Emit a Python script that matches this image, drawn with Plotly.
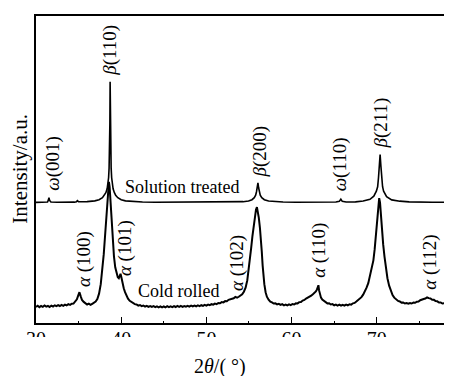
import plotly.graph_objects as go

# ---------------- data ----------------
solution_x = [30.0, 30.5, 31.0, 31.35, 31.45, 31.52, 31.6, 31.75, 32.5, 33.5, 34.5, 34.75, 34.87, 35.0, 35.5,
              36.0, 36.9, 37.4, 37.8, 38.05, 38.2, 38.35, 38.45, 38.52, 38.58, 38.63, 38.67, 38.7,
              38.73, 38.77, 38.82, 38.88, 38.95, 39.05, 39.2, 39.35, 39.6, 40.0, 40.5, 41.4,
              42.5, 44.0, 46.0, 48.0, 50.0, 52.0, 53.5, 54.3, 54.95, 55.35, 55.62, 55.78, 55.88, 55.96,
              56.05, 56.13, 56.21, 56.32, 56.5, 56.8, 57.3, 58.0, 59.0, 60.5, 62.0, 64.0, 65.2, 65.6,
              65.78, 65.95, 66.4, 67.5, 68.4, 69.2, 69.65, 69.95, 70.1, 70.2, 70.3, 70.39, 70.48,
              70.58, 70.68, 70.8, 71.15, 71.75, 72.7, 73.8, 75.0, 76.5, 78.83]
solution_y = [121.3, 121.2, 121.3, 121.6, 123.5, 126.0, 123.3, 121.7, 121.4, 121.3, 121.5, 122.0, 123.0, 121.9, 121.6,
              122.0, 122.8, 124.0, 126.0, 128.5, 131.0, 135.0, 140.0, 146.0, 156.0, 170.0, 200.0, 242.7,
              200.0, 170.0, 156.0, 146.0, 140.0, 135.0, 131.0, 128.5, 126.0, 124.0, 122.8, 122.0,
              121.6, 121.4, 121.4, 121.3, 121.3, 121.4, 121.6, 122.0, 122.7, 124.0, 126.0, 128.5, 132.0, 136.0,
              141.0, 136.0, 132.0, 128.5, 126.0, 124.0, 122.7, 122.0, 121.6, 121.4, 121.4, 121.5, 121.6, 122.3,
              124.5, 122.3, 121.6, 121.8, 122.7, 124.3, 127.5, 132.5, 137.0, 146.0, 158.0, 169.4, 158.0,
              146.0, 137.0, 132.5, 127.0, 123.8, 122.5, 121.8, 121.5, 121.4, 121.4]

cold_x = [30.0, 30.2, 30.4, 30.6, 30.8, 31.0, 31.2, 31.4, 31.6, 31.8, 32.0, 32.2, 32.4, 32.6, 32.8, 33.0,
          33.2, 33.4, 33.6, 33.8, 34.0, 34.2, 34.4, 34.6, 34.8, 34.95, 35.1, 35.25, 35.4, 35.6, 35.8,
          36.0, 36.2, 36.4, 36.6, 36.8, 37.0, 37.2, 37.4, 37.6, 37.8, 37.95, 38.1, 38.25, 38.4, 38.5,
          38.56, 38.64, 38.75, 38.88, 39.0, 39.15, 39.3, 39.45, 39.6, 39.72, 39.82, 39.92, 40.02, 40.15,
          40.3, 40.45, 40.6, 40.8, 41.0, 41.2, 41.4, 41.6, 41.8, 42.0, 42.2, 42.4, 42.6, 42.8, 43.0,
          43.2, 43.4, 43.6, 43.8, 44.0, 44.2, 44.4, 44.6, 44.8, 45.0, 45.2, 45.4, 45.6, 45.8, 46.0,
          46.2, 46.4, 46.6, 46.8, 47.0, 47.2, 47.4, 47.6, 47.8, 48.0, 48.2, 48.4, 48.6, 48.8, 49.0,
          49.2, 49.4, 49.6, 49.8, 50.0, 50.2, 50.4, 50.6, 50.8, 51.0, 51.2, 51.4, 51.6, 51.8, 52.0,
          52.2, 52.4, 52.6, 52.8, 53.0, 53.2, 53.4, 53.6, 53.8, 54.0, 54.2, 54.4, 54.6, 54.8, 54.95,
          55.1, 55.25, 55.4, 55.55, 55.7, 55.82, 55.93, 56.03, 56.15, 56.28, 56.4, 56.5, 56.6, 56.7,
          56.8, 56.95, 57.1, 57.3, 57.5, 57.7, 57.9, 58.1, 58.3, 58.5, 58.7, 58.9, 59.1, 59.3, 59.5,
          59.7, 59.9, 60.1, 60.3, 60.5, 60.7, 60.9, 61.1, 61.3, 61.5, 61.7, 61.9, 62.1, 62.3, 62.5,
          62.7, 62.85, 62.97, 63.08, 63.15, 63.22, 63.32, 63.45, 63.6, 63.8, 64.0, 64.2, 64.4, 64.6,
          64.8, 65.0, 65.2, 65.4, 65.6, 65.8, 66.0, 66.2, 66.4, 66.6, 66.8, 67.0, 67.2, 67.4, 67.6,
          67.8, 68.0, 68.2, 68.4, 68.6, 68.8, 69.0, 69.2, 69.4, 69.6, 69.75, 69.9, 70.05, 70.18,
          70.28, 70.38, 70.5, 70.62, 70.75, 70.9, 71.05, 71.25, 71.45, 71.65, 71.85, 72.05, 72.3,
          72.5, 72.7, 72.9, 73.1, 73.3, 73.5, 73.7, 73.9, 74.1, 74.3, 74.5, 74.7, 74.9, 75.1, 75.3,
          75.5, 75.7, 75.9, 76.1, 76.3, 76.5, 76.7, 76.9, 77.1, 77.3, 77.5, 77.7, 77.9, 78.1, 78.3,
          78.5, 78.7, 78.83]
cold_y = [16.2, 17.4, 15.9, 17.1, 16.3, 17.6, 16.4, 17.2, 16.0, 17.5, 16.6, 17.8, 16.9, 18.0, 17.1, 18.2,
          17.2, 18.5, 17.7, 18.9, 18.2, 19.4, 19.6, 21.2, 23.8, 27.5, 31.0, 26.8, 23.1, 21.2, 19.4,
          18.6, 19.4, 18.2, 19.3, 20.1, 21.5, 24.0, 29.5, 39.0, 54.0, 69.0, 87.0, 107.0, 127.0, 139.0,
          142.0, 137.0, 121.0, 100.0, 82.0, 67.0, 56.0, 49.0, 46.0, 45.0, 48.5, 49.5, 46.0, 40.0,
          35.0, 31.0, 28.0, 24.5, 22.3, 20.9, 20.1, 19.0, 18.6, 17.5, 18.1, 16.9, 17.6, 16.5, 17.3,
          16.2, 17.0, 16.1, 16.9, 15.9, 16.8, 15.8, 16.7, 15.7, 16.6, 15.8, 16.9, 15.9, 16.8, 16.0,
          17.0, 16.1, 17.1, 16.2, 17.2, 16.3, 17.1, 16.4, 17.3, 16.5, 17.4, 16.6, 17.5, 16.8, 17.7,
          17.0, 17.9, 17.2, 18.2, 17.5, 18.5, 17.9, 18.9, 18.4, 19.5, 19.0, 20.1, 19.8, 21.0, 20.7,
          22.0, 21.9, 23.3, 23.6, 24.6, 24.9, 26.2, 25.4, 26.4, 27.2, 28.8, 31.5, 35.5, 43.0, 52.0,
          63.0, 75.0, 87.0, 99.0, 108.0, 114.0, 116.5, 113.0, 106.0, 96.0, 85.0, 72.0, 58.0, 47.0,
          39.0, 31.0, 26.5, 23.5, 21.5, 20.8, 19.6, 19.8, 18.7, 19.2, 18.2, 18.9, 17.8, 18.6, 17.7,
          18.8, 18.0, 19.1, 18.6, 19.8, 19.7, 21.0, 21.2, 22.6, 23.2, 24.6, 25.4, 26.8, 27.5, 29.0,
          30.2, 31.8, 33.5, 37.5, 38.0, 33.0, 28.5, 25.5, 23.5, 22.0, 20.9, 19.7, 19.9, 18.6,
          19.0, 17.8, 18.5, 17.5, 18.4, 17.4, 18.3, 17.5, 18.5, 17.8, 18.9, 18.5, 19.8, 20.2, 21.6,
          22.8, 24.2, 26.0, 28.5, 31.5, 35.5, 40.0, 47.0, 54.0, 63.0, 74.0, 87.0, 103.0, 117.0,
          125.5, 121.0, 106.0, 92.0, 79.0, 67.0, 56.0, 45.0, 37.5, 32.0, 28.0, 25.5, 23.5,
          22.2, 21.6, 20.5, 20.6, 19.6, 20.0, 19.4, 20.1, 19.6, 20.6, 20.3, 21.4, 21.6, 22.9, 23.2,
          24.1, 24.6, 25.8, 25.0, 24.6, 23.4, 23.3, 22.0, 21.8, 20.6, 20.7, 19.6, 19.9, 19.0, 19.4,
          18.6, 19.1, 18.5]

tick_vals = [30, 40, 50, 60, 70]
tick_text = ["30", "40", "50", "60", "70"]

peak_labels = ["<i>ω</i>(001)", "<i>β</i>(110)", "<i>β</i>(200)", "<i>ω</i>(110)", "<i>β</i>(211)",
               "<i>α</i> (100)", "<i>α</i> (101)", "<i>α</i> (102)", "<i>α</i> (110)", "<i>α</i> (112)"]
series_names = ["Solution treated", "Cold rolled"]

# ---------------- layout helpers (positions in reference pixels) ----------------
W, H = 452, 376
OFF = 8.0                      # page body margin of the browser
L_ref, T_ref, B_ref, R_ref = 35.5, 14.0, 322.7, 452.0
L, T, B, R = L_ref - OFF, T_ref - OFF, B_ref - OFF, R_ref - OFF
X0, PXDEG = 30.0, 8.53
X1 = X0 + (R_ref - L_ref) / PXDEG
YMAX = B_ref - T_ref

def dx(px):
    return X0 + (px - L_ref) / PXDEG

def dy(py):
    return B_ref - py

def paper_x(px):
    return (px - L_ref) / (R_ref - L_ref)

def paper_y(py):
    return (B_ref - py) / (B_ref - T_ref)

label_px = [(53, 162), (109.5, 48), (260, 150), (340, 163), (381, 122),
            (83, 258), (124, 247), (236, 262), (319, 250), (430, 262)]
name_px = [(182, 186), (179, 291)]

FONT = "Liberation Serif, Times New Roman, serif"

fig = go.Figure()
fig.add_trace(go.Scatter(x=solution_x, y=solution_y, mode="lines",
                         line=dict(color="black", width=1.6), showlegend=False, hoverinfo="skip"))
fig.add_trace(go.Scatter(x=cold_x, y=cold_y, mode="lines",
                         line=dict(color="black", width=2.0), showlegend=False, hoverinfo="skip"))

ann = []
# white band that hides the lower half of the tick labels, as in the reference
ann.append(dict(x=paper_x(230), y=paper_y(336.5), xref="paper", yref="paper", text=".",
                showarrow=False, xanchor="center", yanchor="top", width=470, height=15,
                bgcolor="white", borderpad=0, borderwidth=0,
                font=dict(size=4, color="white")))
for txt, (px, py) in zip(peak_labels, label_px):
    ann.append(dict(x=dx(px), y=dy(py), xref="x", yref="y", text=txt, textangle=-90,
                    showarrow=False, xanchor="center", yanchor="middle",
                    font=dict(family=FONT, size=19, color="black")))
for txt, (px, py) in zip(series_names, name_px):
    ann.append(dict(x=dx(px), y=dy(py), xref="x", yref="y", text=txt,
                    showarrow=False, xanchor="center", yanchor="middle",
                    font=dict(family=FONT, size=18, color="black")))
ann.append(dict(x=paper_x(20), y=paper_y(168), xref="paper", yref="paper",
                text="Intensity/a.u.", textangle=-90, showarrow=False,
                xanchor="center", yanchor="middle", font=dict(family=FONT, size=21, color="black")))
ann.append(dict(x=paper_x(220), y=paper_y(366), xref="paper", yref="paper",
                text="2<i>θ</i>/( °)", showarrow=False,
                xanchor="center", yanchor="middle", font=dict(family=FONT, size=20, color="black")))

fig.update_layout(
    width=W, height=H,
    margin=dict(l=L, r=W - R, t=T, b=H - B, pad=0),
    paper_bgcolor="white", plot_bgcolor="white",
    annotations=ann,
    xaxis=dict(range=[X0, X1], tickvals=tick_vals, ticktext=tick_text, ticks="inside",
               ticklen=6, tickwidth=1.3, tickcolor="black", showline=True, linecolor="black",
               linewidth=1.6, mirror=True, showgrid=False, zeroline=False,
               ticklabelstandoff=-3,
               tickfont=dict(family=FONT, size=20, color="black"),
               minor=dict(tickvals=[35, 45, 55, 65, 75], ticks="inside", ticklen=2,
                          tickwidth=1, tickcolor="black")),
    yaxis=dict(range=[0, YMAX], showticklabels=False, ticks="", showline=True,
               linecolor="black", linewidth=1.6, mirror=False, showgrid=False, zeroline=False),
)

fig.write_html("out.html")
